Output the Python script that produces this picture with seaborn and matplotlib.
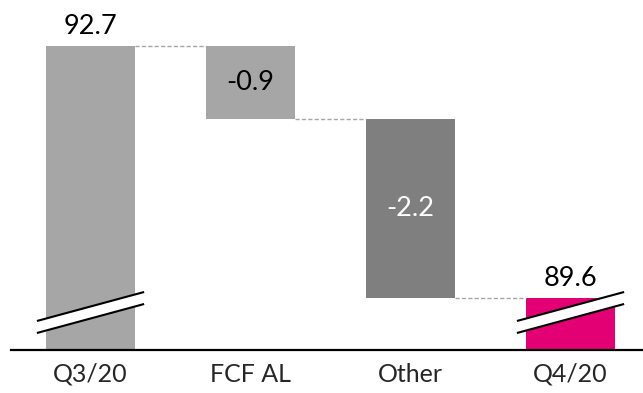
import matplotlib
matplotlib.use("Agg")
import matplotlib.pyplot as plt
import seaborn as sns
import pandas as pd
from matplotlib.patches import Polygon
import matplotlib.transforms as mtransforms

categories = ["Q3/20", "FCF AL", "Other", "Q4/20"]
changes = [92.7, -0.9, -2.2, 89.6]
labels = ["92.7", "-0.9", "-2.2", "89.6"]
colors = ["#a6a6a6", "#a6a6a6", "#7f7f7f", "#e20074"]
text_colors = ["black", "black", "white", "black"]

# waterfall tops/bottoms
tops, bottoms = [], []
running = changes[0]
tops.append(changes[0]); bottoms.append(0.0)
for c in changes[1:-1]:
    tops.append(running); bottoms.append(running + c); running += c
tops.append(changes[-1]); bottoms.append(0.0)

df = pd.DataFrame({"cat": categories, "top": tops})

sns.set_style("white")
plt.rcParams["font.family"] = ["Lato", "DejaVu Sans"]

fig = plt.figure(figsize=(6.43, 3.93), dpi=100)
ax = fig.add_axes([11/643, 1 - 350/393, 632/643, 350/393])

W = 0.556
sns.barplot(data=df, x="cat", y="top", hue="cat", palette=colors, legend=False,
            width=W, ax=ax, saturation=1, order=categories)

for p, b, t in zip(ax.patches, bottoms, tops):
    p.set_y(b); p.set_height(t - b); p.set_linewidth(0)

ymin, ymax = 88.96, 93.27
ax.set_ylim(ymin, ymax)
ax.set_xlim(-0.497, 3.453)

# connectors
levels = [tops[0]] + [bottoms[i] for i in range(1, len(categories) - 1)]
for i, lv in enumerate(levels):
    ax.plot([i + W/2, i + 1 - W/2], [lv, lv], ls=(0, (3, 1.6)), color="#a6a6a6", lw=1.0, zorder=1)

# value labels
for i, (lab, tc) in enumerate(zip(labels, text_colors)):
    if i in (0, len(categories) - 1):
        ax.text(i, tops[i] + 0.09, lab, ha="center", va="bottom", fontsize=19.5, color=tc)
    else:
        ax.text(i, (tops[i] + bottoms[i]) / 2, lab, ha="center", va="center", fontsize=19.5, color=tc)

# axis break marks on first and last bars
trans = mtransforms.blended_transform_factory(ax.transData, ax.transAxes)
for i in (0, len(categories) - 1):
    x0, x1 = i - 0.335, i + 0.335
    ylo0, yhi0 = 17/350, 46/350
    gap = 12/350
    upper = [(x0, ylo0 + gap), (x1, yhi0 + gap)]
    lower = [(x0, ylo0), (x1, yhi0)]
    poly = Polygon([upper[0], upper[1], lower[1], lower[0]], closed=True,
                   facecolor="white", edgecolor="none", transform=trans, zorder=3)
    ax.add_patch(poly)
    for ln in (upper, lower):
        ax.plot([ln[0][0], ln[1][0]], [ln[0][1], ln[1][1]], color="black", lw=1.5,
                transform=trans, zorder=4, solid_capstyle="butt")

for s in ["top", "right", "left"]:
    ax.spines[s].set_visible(False)
ax.spines["bottom"].set_color("black")
ax.spines["bottom"].set_linewidth(1.6)
ax.set_yticks([])
ax.set_xlabel(""); ax.set_ylabel("")
ax.tick_params(axis="x", length=0, pad=9, labelsize=18)
ax.set_facecolor("white")

fig.savefig("out.png", dpi=100, facecolor="white")
